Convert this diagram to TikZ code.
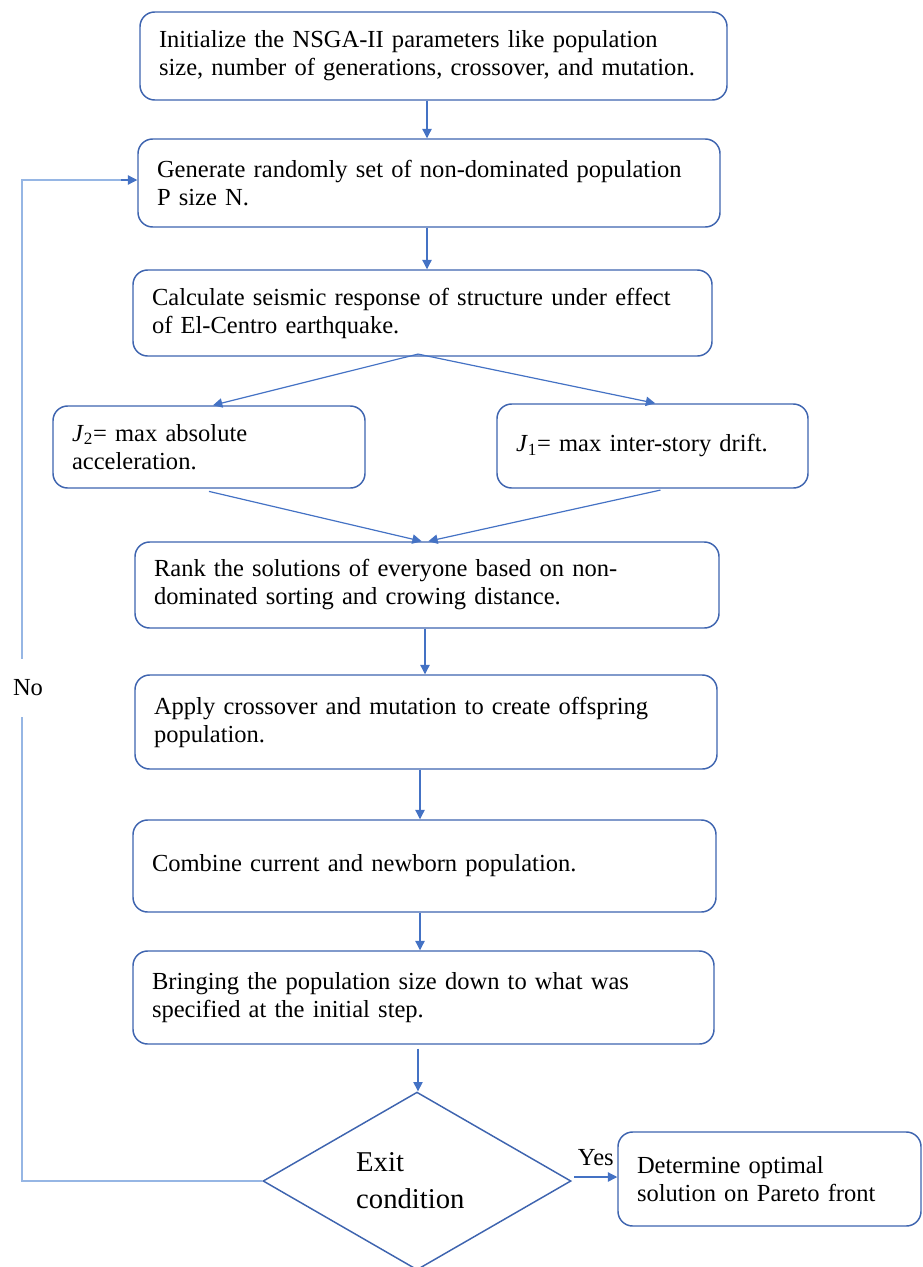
\documentclass[tikz,border=0pt]{standalone}
\usepackage{fontspec}
\setmainfont{Liberation Serif}
\usetikzlibrary{arrows.meta,shapes.geometric}
\definecolor{boxblue}{RGB}{62,100,175}
\definecolor{arrblue}{RGB}{68,114,196}
\definecolor{fbblue}{RGB}{150,182,228}
\begin{document}
\begin{tikzpicture}[x=0.75pt,y=-0.75pt,
  stepbox/.style={draw=boxblue,line width=1.1pt,rounded corners=11pt,rectangle,
    align=left,inner xsep=14.25pt,inner ysep=0pt,
    font=\fontsize{18.4pt}{21pt}\selectfont},
  arr/.style={draw=arrblue,line width=0.9pt,-{Triangle[length=7pt,width=7pt]}},
  fb/.style={draw=fbblue,line width=1.6pt},
  lbl/.style={inner sep=1pt,font=\fontsize{18.4pt}{21pt}\selectfont}]
\useasboundingbox (0,0) rectangle (922,1267);

\node[stepbox,minimum width=440.25pt,minimum height=66pt,text width=411.75pt] (init) at (433.5,56)
  {Initialize the NSGA-II parameters like population\\size, number of generations, crossover, and mutation.};
\node[stepbox,minimum width=436.5pt,minimum height=66pt,text width=408pt] (gen) at (429,183)
  {Generate randomly set of non-dominated population\\P size N.};
\node[stepbox,minimum width=434.25pt,minimum height=64.5pt,text width=405.75pt] (calc) at (422.5,313)
  {Calculate seismic response of structure under effect\\of El-Centro earthquake.};
\node[stepbox,minimum width=234pt,minimum height=61.5pt,text width=205.5pt] (jtwo) at (209,447)
  {\textit{J}\textsubscript{2}= max absolute\\acceleration.};
\node[stepbox,minimum width=233.25pt,minimum height=63pt,text width=204.75pt] (jone) at (652.5,446)
  {\textit{J}\textsubscript{1}= max inter-story drift.};
\node[stepbox,minimum width=438pt,minimum height=64.5pt,text width=409.5pt] (rank) at (427,585)
  {Rank the solutions of everyone based on non-\\dominated sorting and crowing distance.};
\node[stepbox,minimum width=436.5pt,minimum height=70.5pt,text width=408pt] (apply) at (426,722)
  {Apply crossover and mutation to create offspring\\population.};
\node[stepbox,minimum width=437.25pt,minimum height=69pt,text width=408.75pt] (comb) at (424.5,866)
  {Combine current and newborn population.};
\node[stepbox,minimum width=435.75pt,minimum height=69.75pt,text width=407.25pt] (bring) at (423.5,997.5)
  {Bringing the population size down to what was\\specified at the initial step.};
\node[draw=boxblue,line width=1.1pt,diamond,minimum width=231pt,minimum height=132pt,inner sep=0pt,
  align=left,font=\fontsize{21.5pt}{27.75pt}\selectfont] (exit) at (417,1181)
  {Exit\\condition\hspace*{10pt}};
\node[stepbox,minimum width=227.25pt,minimum height=70.5pt,text width=198.75pt] (det) at (769.5,1179)
  {Determine optimal\\solution on Pareto front};

\coordinate (xa) at (427,0);
\coordinate (xb) at (425,0);
\coordinate (xc) at (420,0);
\coordinate (xd) at (418,0);
\draw[arr] (init.south -| xa) -- (gen.north -| xa);
\draw[arr] (gen.south -| xa) -- (calc.north -| xa);
\coordinate (split) at ([yshift=2pt]calc.south -| xd);
\draw[arr] (split) -- ([xshift=3pt]jtwo.north);
\draw[arr] (split) -- ([xshift=2pt]jone.north);
\draw[arr] ([yshift=-2pt]jtwo.south) -- ([xshift=-4pt]rank.north);
\draw[arr] ([yshift=-1pt,xshift=6pt]jone.south) -- ([xshift=1pt]rank.north);
\draw[arr] (rank.south -| xb) -- (apply.north -| xb);
\draw[arr] (apply.south -| xc) -- (comb.north -| xc);
\draw[arr] (comb.south -| xc) -- (bring.north -| xc);
\draw[arr] ([yshift=-3pt]bring.south -| xd) -- (exit.north -| xd);
\draw[arr] ([xshift=2pt,yshift=3pt]exit.east) -- ([yshift=3pt]exit.east -| det.west)
  node[lbl,midway,above=7pt] (yes) {Yes};

\coordinate (fbbot) at (22,1181);
\coordinate (fbtop) at (22,180);
\draw[fb] (exit.west) -- (fbbot) -- (fbtop) -- ([xshift=-10pt]gen.west |- fbtop);
\draw[arr] ([xshift=-12pt]gen.west |- fbtop) -- (gen.west |- fbtop);
\node[lbl,fill=white,inner ysep=16pt] (no) at (28,688) {No};
\end{tikzpicture}
\end{document}
